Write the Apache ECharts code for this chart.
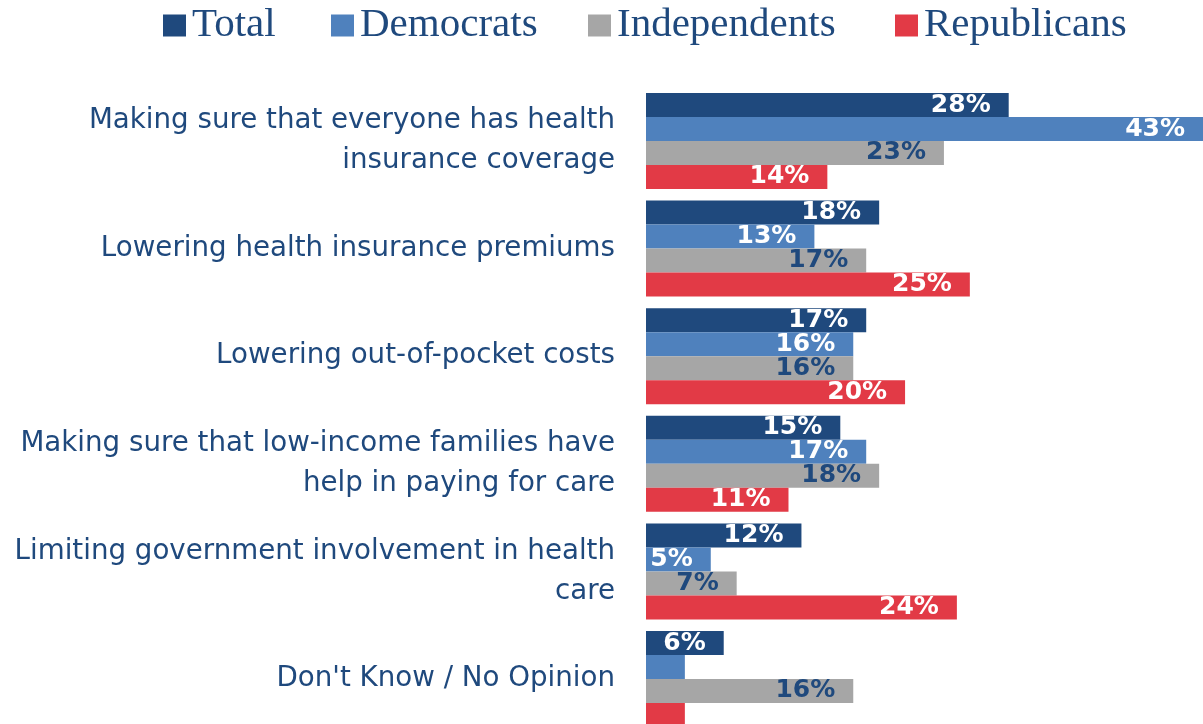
<!DOCTYPE html>
<html>
<head>
<meta charset="utf-8">
<script src="https://cdn.jsdelivr.net/npm/echarts@6/dist/echarts.min.js"></script>
<style>html,body{margin:0;padding:0;background:#fff;}#chart{width:1203px;height:724px;}</style>
</head>
<body>
<div id="chart"></div>
<script>
const categories = [
  "Making sure that everyone has health\ninsurance coverage",
  "Lowering health insurance premiums",
  "Lowering out-of-pocket costs",
  "Making sure that low-income families have\nhelp in paying for care",
  "Limiting government involvement in health\ncare",
  "Don't Know / No Opinion"
];
const seriesNames = ["Total", "Democrats", "Independents", "Republicans"];
const total = [28, 18, 17, 15, 12, 6];
const democrats = [43, 13, 16, 17, 5, 3];
const independents = [23, 17, 16, 18, 7, 16];
const republicans = [14, 25, 20, 11, 24, 3];

const colors = ["#1F497D", "#4F81BD", "#A6A6A6", "#E23A46"];
const labelColors = ["#FFFFFF", "#FFFFFF", "#1F497D", "#FFFFFF"];
const values = [total, democrats, independents, republicans];
const legendLeft = [158, 326, 583, 890];

const chart = echarts.init(document.getElementById('chart'));
const option = {
  animation: false,
  backgroundColor: '#fff',
  legend: seriesNames.map((n, i) => ({
    data: [n],
    left: legendLeft[i],
    top: 0,
    itemWidth: 23,
    itemHeight: 22,
    itemGap: 0,
    icon: 'rect',
    textStyle: { fontFamily: 'Liberation Serif', fontSize: 41, color: '#1F497D', padding: [0, 0, 0, 1] },
    selectedMode: false
  })),
  grid: { left: 646, top: 87.2, width: 557, height: 645.6, containLabel: false, outerBoundsMode: 'none' },
  xAxis: { type: 'value', min: 0, max: 43, show: false },
  yAxis: {
    type: 'category',
    data: categories,
    inverse: true,
    axisLine: { show: false },
    axisTick: { show: false },
    axisLabel: {
      margin: 31,
      fontFamily: 'DejaVu Sans',
      fontSize: 27.7,
      lineHeight: 40,
      color: '#1F497D',
      align: 'right'
    }
  },
  series: seriesNames.map((n, i) => ({
    name: n,
    type: 'bar',
    data: values[i],
    barGap: '0%',
    barCategoryGap: '10.8%',
    itemStyle: { color: colors[i] },
    label: {
      show: true,
      position: 'insideRight',
      distance: 18,
      fontFamily: 'DejaVu Sans',
      fontWeight: 'bold',
      fontSize: 25,
      color: labelColors[i],
      formatter: p => p.value >= 4 ? p.value + '%' : ''
    }
  }))
};
chart.setOption(option);
</script>
</body>
</html>
